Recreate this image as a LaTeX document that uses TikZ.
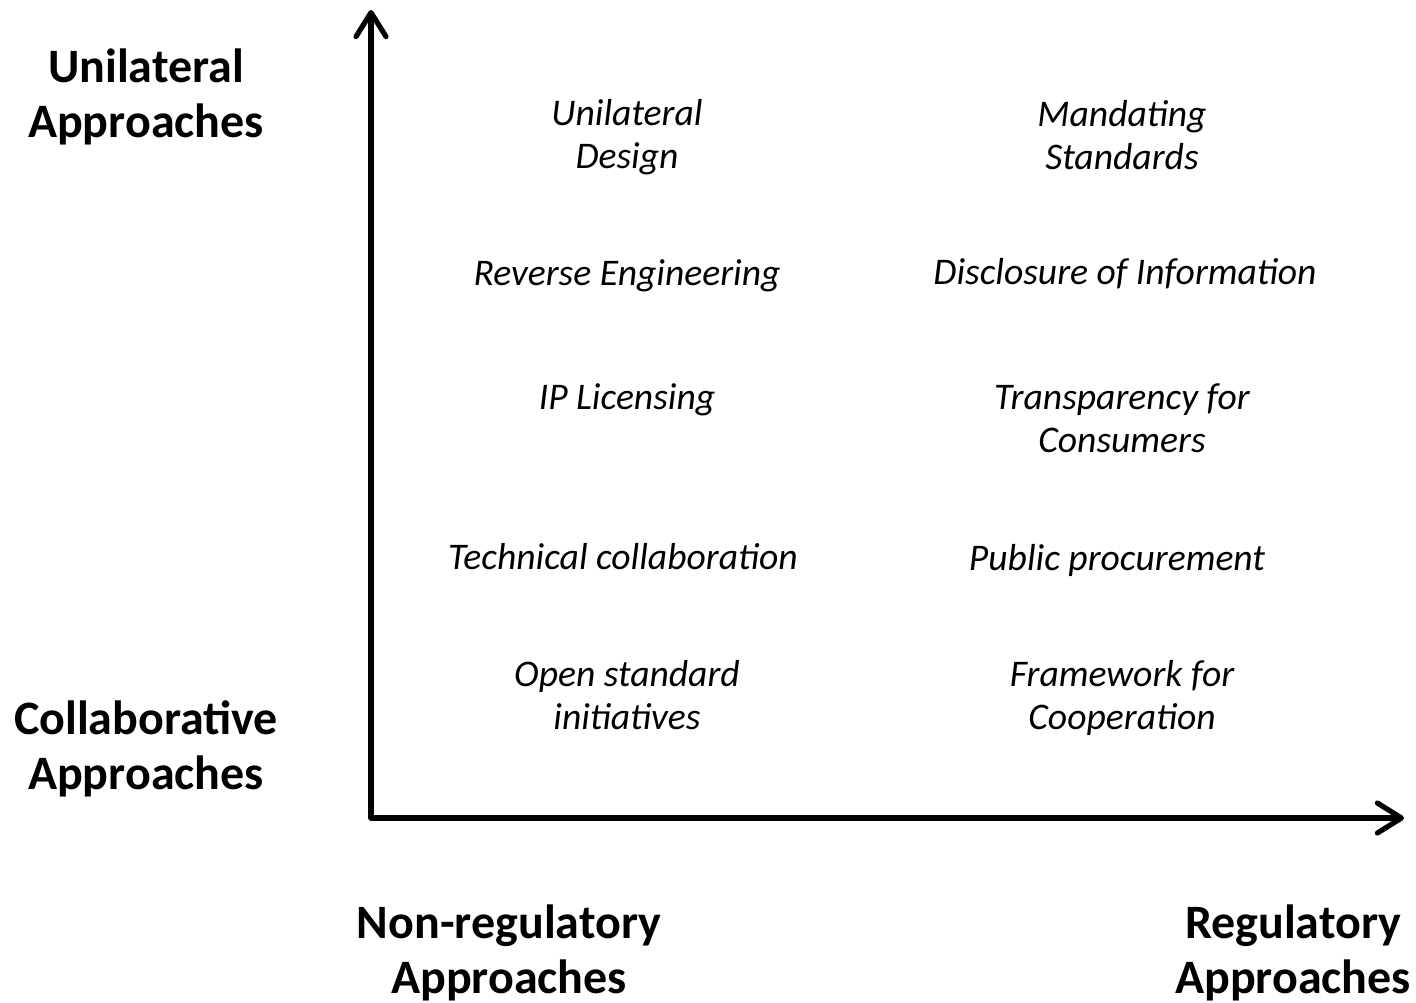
\documentclass[tikz,border=0pt]{standalone}
\usepackage{fontspec}
\setmainfont{Carlito}
\usetikzlibrary{arrows.meta}
\begin{document}
\begin{tikzpicture}[x=0.5pt,y=-0.5pt,
  axis/.style={line width=2.6pt,line cap=round,-{Straight Barb[length=12pt,width=15pt,line cap=round,line join=round]}},
  item/.style={align=center,font=\fontsize{18.8}{21.5}\selectfont\itshape,inner sep=0pt},
  axlabel/.style={align=center,font=\fontsize{24}{27.5}\selectfont\bfseries,inner sep=0pt}]
\useasboundingbox (0,0) rectangle (1416,1002);
\coordinate (o) at (371,818);
\coordinate (ytop) at (371,10);
\coordinate (xend) at (1404,818);
\draw[axis] (o) -- (ytop);
\draw[axis] (o) -- (xend);
\node[axlabel] (ua) at (146,97) {Unilateral\\Approaches};
\node[axlabel] (ca) at (146,749) {Collaborative\\Approaches};
\node[axlabel] (na) at (509,953) {Non-regulatory\\Approaches};
\node[axlabel] (ra) at (1293,953) {Regulatory\\Approaches};
\node[item] (ud) at (627,137) {Unilateral\\Design};
\node[item] (ms) at (1122,135) {Mandating\\Standards};
\node[item] (re) at (627,276) {Reverse Engineering};
\node[item] (di) at (1125,274) {Disclosure of Information};
\node[item] (ip) at (627,400) {IP Licensing};
\node[item] (tc) at (1122,418) {Transparency for\\Consumers};
\node[item] (tcol) at (623,557) {Technical collaboration};
\node[item] (pp) at (1117,560) {Public procurement};
\node[item] (os) at (627,695) {Open standard\\initiatives};
\node[item] (fc) at (1122,698) {Framework for\\Cooperation};
\end{tikzpicture}
\end{document}
